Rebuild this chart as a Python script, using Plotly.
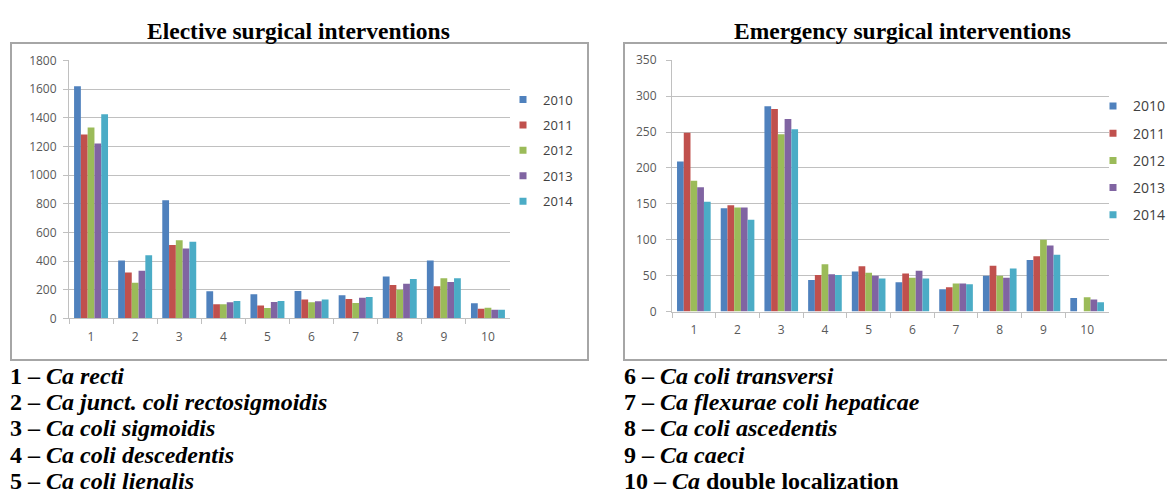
import plotly.graph_objects as go

W, H = 1175, 499
OFF = 8  # page body margin: screen position = figure position + 8

categories = ["1", "2", "3", "4", "5", "6", "7", "8", "9", "10"]
years = ["2010", "2011", "2012", "2013", "2014"]
colors = ["#4F81BD", "#C0504D", "#9BBB59", "#8064A2", "#4BACC6"]

elective_2010 = [1620, 404, 824, 189, 168, 191, 162, 292, 404, 105]
elective_2011 = [1284, 321, 512, 99, 90, 132, 135, 233, 224, 67]
elective_2012 = [1333, 249, 545, 99, 72, 112, 108, 200, 280, 74]
elective_2013 = [1221, 332, 487, 112, 114, 119, 144, 242, 254, 61]
elective_2014 = [1425, 440, 534, 121, 121, 132, 150, 274, 280, 61]

emergency_2010 = [209, 144, 286, 44, 56, 41, 31, 50, 72, 19]
emergency_2011 = [249, 148, 282, 51, 63, 53, 34, 64, 77, None]
emergency_2012 = [182, 145, 247, 66, 54, 47, 39, 50, 100, 20]
emergency_2013 = [173, 145, 268, 52, 50, 57, 39, 47, 92, 17]
emergency_2014 = [153, 128, 254, 51, 46, 46, 38, 60, 79, 13]

left_title = "Elective surgical interventions"
right_title = "Emergency surgical interventions"

left_notes = [("1", "Ca recti", ""), ("2", "Ca junct. coli rectosigmoidis", ""),
              ("3", "Ca coli sigmoidis", ""), ("4", "Ca coli descedentis", ""),
              ("5", "Ca coli lienalis", "")]
right_notes = [("6", "Ca coli transversi", ""), ("7", "Ca flexurae coli hepaticae", ""),
               ("8", "Ca coli ascedentis", ""), ("9", "Ca caeci", ""),
               ("10", "Ca", " double localization")]

elective = [elective_2010, elective_2011, elective_2012, elective_2013, elective_2014]
emergency = [emergency_2010, emergency_2011, emergency_2012, emergency_2013, emergency_2014]


def px(x):
    return (x - OFF) / W


def py(y):
    return 1 - (y - OFF) / H


fig = go.Figure()

for i, (yr, c) in enumerate(zip(years, colors)):
    fig.add_trace(go.Bar(x=categories, y=elective[i], name=yr, marker_color=c,
                         marker_line_width=0, xaxis="x", yaxis="y", showlegend=False))
    fig.add_trace(go.Scatter(x=[None], y=[None], mode="markers", name=yr,
                             marker=dict(symbol="square", size=7, color=c),
                             xaxis="x", yaxis="y", legend="legend", legendgroup="a" + yr))
for i, (yr, c) in enumerate(zip(years, colors)):
    fig.add_trace(go.Bar(x=categories, y=emergency[i], name=yr, marker_color=c,
                         marker_line_width=0, xaxis="x2", yaxis="y2", showlegend=False))
    fig.add_trace(go.Scatter(x=[None], y=[None], mode="markers", name=yr,
                             marker=dict(symbol="square", size=7, color=c),
                             xaxis="x2", yaxis="y2", legend="legend2", legendgroup="b" + yr))

tickfont = dict(family="Open Sans", size=12, color="#595959")
grid = "#C0C0C0"

xcommon = dict(type="category", showline=True, linecolor=grid, linewidth=1,
               ticks="outside", tickson="boundaries", ticklen=5, tickcolor=grid,
               tickfont=tickfont, showgrid=False, zeroline=False, fixedrange=True,
               ticklabelstandoff=7)
ycommon = dict(showline=True, linecolor=grid, linewidth=1, ticks="outside",
               ticklen=5, tickcolor=grid, tickfont=tickfont, showgrid=True,
               gridcolor=grid, gridwidth=1, zeroline=False, fixedrange=True)

fig.update_layout(
    width=W, height=H,
    margin=dict(l=0, r=0, t=0, b=0),
    paper_bgcolor="white", plot_bgcolor="white",
    barmode="group", bargap=0.23, bargroupgap=0,
    xaxis=dict(domain=[px(69), px(510)], anchor="y", **xcommon),
    yaxis=dict(domain=[py(320), py(53)], anchor="x", range=[0, 1800], dtick=200,
               ticklabelstandoff=4, **ycommon),
    xaxis2=dict(domain=[px(672), px(1109)], anchor="y2", **xcommon),
    yaxis2=dict(domain=[py(313), py(52.7)], anchor="x2", range=[0, 350], dtick=50,
                ticklabelstandoff=7, **ycommon),
    legend=dict(x=px(503), y=py(78), xanchor="left", yanchor="top",
                font=dict(family="Open Sans", size=13, color="#404040"),
                tracegroupgap=5.5, itemwidth=30, bgcolor="rgba(0,0,0,0)"),
    legend2=dict(x=px(1093), y=py(84), xanchor="left", yanchor="top",
                 font=dict(family="Open Sans", size=14, color="#404040"),
                 tracegroupgap=6, itemwidth=30, bgcolor="rgba(0,0,0,0)"),
    showlegend=True,
)

# chart frames
fig.add_shape(type="rect", xref="paper", yref="paper", x0=px(11), x1=px(588),
              y0=py(363), y1=py(35), line=dict(color="#A6A6A6", width=2), layer="below")
fig.add_shape(type="rect", xref="paper", yref="paper", x0=px(624), x1=px(1200),
              y0=py(363), y1=py(35), line=dict(color="#A6A6A6", width=2), layer="below")

titlefont = dict(family="Liberation Serif", size=23.5, color="black")
fig.add_annotation(text="<b>" + left_title + "</b>", xref="paper", yref="paper",
                   x=px(298), y=py(22), showarrow=False, font=titlefont,
                   xanchor="center", yanchor="middle")
fig.add_annotation(text="<b>" + right_title + "</b>", xref="paper", yref="paper",
                   x=px(902), y=py(22), showarrow=False, font=titlefont,
                   xanchor="center", yanchor="middle")

notefont = dict(family="Liberation Serif", size=24, color="black")
row_y = [380, 407, 434, 461, 488]
for (num, it, rest), yy in zip(left_notes, row_y):
    fig.add_annotation(text="<b>%s – <i>%s</i>%s</b>" % (num, it, rest), xref="paper",
                       yref="paper", x=0, y=py(yy), showarrow=False, font=notefont,
                       xanchor="left", yanchor="middle")
for (num, it, rest), yy in zip(right_notes, row_y):
    fig.add_annotation(text="<b>%s – <i>%s</i>%s</b>" % (num, it, rest), xref="paper",
                       yref="paper", x=px(622), y=py(yy), showarrow=False, font=notefont,
                       xanchor="left", yanchor="middle")

fig.write_html("out.html")
